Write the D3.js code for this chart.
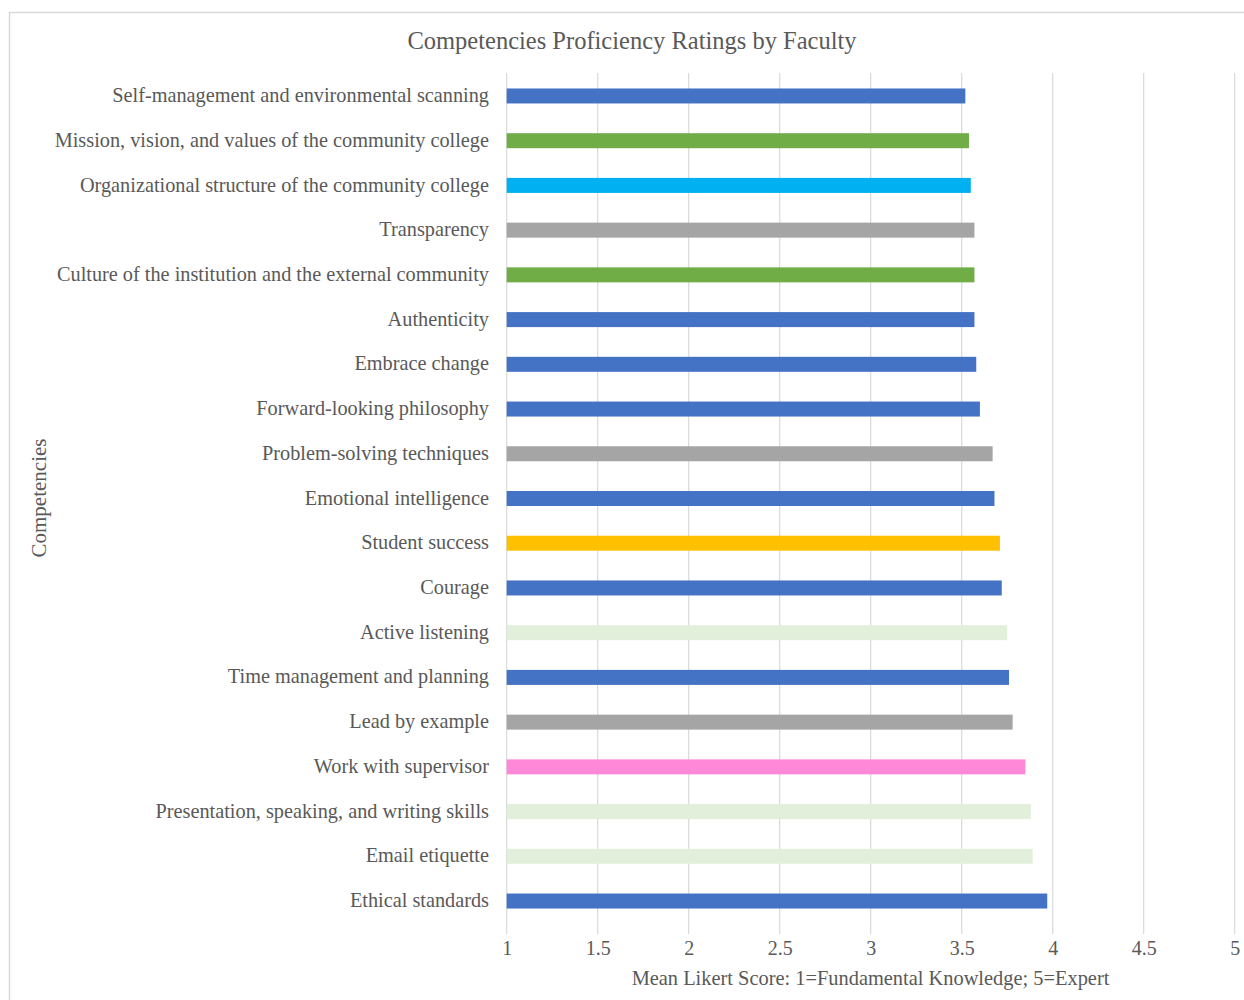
<!DOCTYPE html>
<html>
<head>
<meta charset="utf-8">
<script src="https://cdn.jsdelivr.net/npm/d3@7"></script>
<style>
  html, body { margin: 0; padding: 0; background: #fff; }
  svg { display: block; }
  text { font-family: "Liberation Serif", "Times New Roman", serif; fill: #595959; }
</style>
</head>
<body>
<svg id="chart" width="1244" height="1000"></svg>
<script>
// Competencies, top to bottom
const competencies = [
  "Self-management and environmental scanning",
  "Mission, vision, and values of the community college",
  "Organizational structure of the community college",
  "Transparency",
  "Culture of the institution and the external community",
  "Authenticity",
  "Embrace change",
  "Forward-looking philosophy",
  "Problem-solving techniques",
  "Emotional intelligence",
  "Student success",
  "Courage",
  "Active listening",
  "Time management and planning",
  "Lead by example",
  "Work with supervisor",
  "Presentation, speaking, and writing skills",
  "Email etiquette",
  "Ethical standards"
];

// Mean Likert score for each competency
const meanScores = [
  3.52, 3.54, 3.55, 3.57, 3.57, 3.57, 3.58, 3.60, 3.67, 3.68,
  3.71, 3.72, 3.75, 3.76, 3.78, 3.85, 3.88, 3.89, 3.97
];

// Competency group of each bar (sets its colour)
const groups = [
  "personal", "mission", "structure", "ethics", "mission", "personal", "personal",
  "personal", "ethics", "personal", "student", "personal", "communication",
  "personal", "ethics", "supervisor", "communication", "communication", "personal"
];

const groupColors = {
  personal: "#4472C4",
  mission: "#70AD47",
  structure: "#00B0F0",
  ethics: "#A5A5A5",
  student: "#FFC000",
  communication: "#E2EFDA",
  supervisor: "#FF89D8"
};

const xTicks = [1, 1.5, 2, 2.5, 3, 3.5, 4, 4.5, 5];

const titleText = "Competencies Proficiency Ratings by Faculty";
const xTitle = "Mean Likert Score: 1=Fundamental Knowledge; 5=Expert";
const yTitle = "Competencies";

const svg = d3.select("#chart");

// Outer chart frame
svg.append("rect")
  .attr("x", 9.5).attr("y", 12.5)
  .attr("width", 1260).attr("height", 1000)
  .attr("fill", "none")
  .attr("stroke", "#d9d9d9")
  .attr("stroke-width", 1.5);

const plot = { left: 506.7, right: 1234.7, top: 73.6, bottom: 923.4 };

const x = d3.scaleLinear().domain([1, 5]).range([plot.left, plot.right]);
const y = d3.scaleBand().domain(competencies).range([plot.top, plot.bottom]).paddingInner(0.66).paddingOuter(0.33);

// Vertical gridlines
svg.append("g")
  .selectAll("line")
  .data(xTicks)
  .join("line")
  .attr("x1", d => x(d)).attr("x2", d => x(d))
  .attr("y1", 73).attr("y2", 934)
  .attr("stroke", "#d9d9d9")
  .attr("stroke-width", 1.2);

// Bars
svg.append("g")
  .selectAll("rect")
  .data(competencies)
  .join("rect")
  .attr("x", x(1))
  .attr("y", d => y(d) + y.bandwidth() / 2 - 7.5)
  .attr("width", (d, i) => x(meanScores[i]) - x(1))
  .attr("height", 15)
  .attr("fill", (d, i) => groupColors[groups[i]]);

// Category labels
const yAxis = d3.axisLeft(y).tickSize(0).tickPadding(0);
const yg = svg.append("g").attr("transform", `translate(489,0)`).call(yAxis);
yg.select(".domain").remove();
yg.selectAll("text")
  .style("font-family", '"Liberation Serif", "Times New Roman", serif')
  .style("font-size", "20.3px")
  .attr("fill", "#595959")
  .attr("dy", "0.3em");

// X tick labels
const xAxis = d3.axisBottom(x).tickValues(xTicks).tickSize(0).tickPadding(0).tickFormat(d3.format("~g"));
const xg = svg.append("g").attr("transform", `translate(0,941)`).call(xAxis);
xg.select(".domain").remove();
xg.selectAll("text")
  .style("font-family", '"Liberation Serif", "Times New Roman", serif')
  .style("font-size", "20px")
  .attr("fill", "#595959")
  .attr("dy", "0.71em");

// Title
svg.append("text")
  .attr("x", 632).attr("y", 49)
  .attr("text-anchor", "middle")
  .style("font-size", "24.5px")
  .text(titleText);

// Axis titles
svg.append("text")
  .attr("x", 870.5).attr("y", 985)
  .attr("text-anchor", "middle")
  .style("font-size", "20.4px")
  .text(xTitle);

svg.append("text")
  .attr("transform", "translate(46,498) rotate(-90)")
  .attr("text-anchor", "middle")
  .style("font-size", "21px")
  .text(yTitle);
</script>
</body>
</html>
